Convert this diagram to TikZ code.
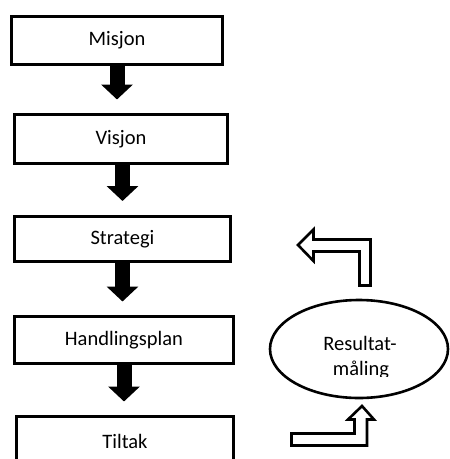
\documentclass[tikz,border=0pt]{standalone}
\usepackage{fontspec}
\setmainfont{Carlito}
\usetikzlibrary{arrows.meta,shapes.geometric}
\begin{document}
\begin{tikzpicture}[x=1pt,y=-1pt,
  box/.style={draw=black,line width=3pt,fill=white,rectangle,inner sep=0pt,
    font=\fontsize{20.5}{25}\selectfont},
  blockarrow/.style={draw=black,line width=15pt,
    -{Triangle[length=15pt,width=31pt]}},
  hollow/.style={draw=black,line width=2.6pt,fill=white,line join=miter},
  lbl/.style={font=\fontsize{20.5}{25}\selectfont,inner sep=0pt}]
\clip (0,0) rectangle (450,459);
\fill[white] (0,0) rectangle (450,459);
\node[box,minimum width=211pt,minimum height=48pt] (mis) at (117,40.5) {Misjon};
\node[box,minimum width=213pt,minimum height=49pt] (vis) at (121,139) {Visjon};
\node[box,minimum width=216pt,minimum height=45pt] (str) at (122.5,239) {Strategi};
\node[box,minimum width=219pt,minimum height=47pt] (han) at (124,340) {Handlingsplan};
\node[box,minimum width=217pt,minimum height=49pt] (til) at (125,441) {Tiltak};
\draw[blockarrow,shorten >=13.5pt] (mis.south) -- (mis.south |- vis.north);
\draw[blockarrow,shorten >=14pt] ([xshift=1.5pt]vis.south) -- ([xshift=1.5pt]vis.south |- str.north);
\draw[blockarrow,shorten >=13.5pt] (str.south) -- (str.south |- han.north);
\draw[blockarrow,shorten >=13.5pt] (han.south) -- (han.south |- til.north);
\node[draw=black,line width=2.6pt,ellipse,minimum width=178pt,minimum height=98pt,inner sep=0pt] (res) at (359,349) {};
\begin{scope}
\clip (270,300) rectangle (450,376.5);
\node[lbl,anchor=base] (r1) at (360,350) {Resultat-};
\node[lbl,anchor=base] (r2) at (361,375) {måling};
\end{scope}
\path[hollow] (298,245) -- (313.5,229.5) -- (313.5,239.5) -- (370.5,239.5) -- (370.5,285.5)
  -- (359.5,285.5) -- (359.5,251.5) -- (313.5,251.5) -- (313.5,261) -- cycle;
\path[hollow] (362,406) -- (374,419.5) -- (367,419.5) -- (367,445.5) -- (291.5,445.5)
  -- (291.5,433.5) -- (354.5,433.5) -- (354.5,419.5) -- (348,419.5) -- cycle;
\end{tikzpicture}
\end{document}
